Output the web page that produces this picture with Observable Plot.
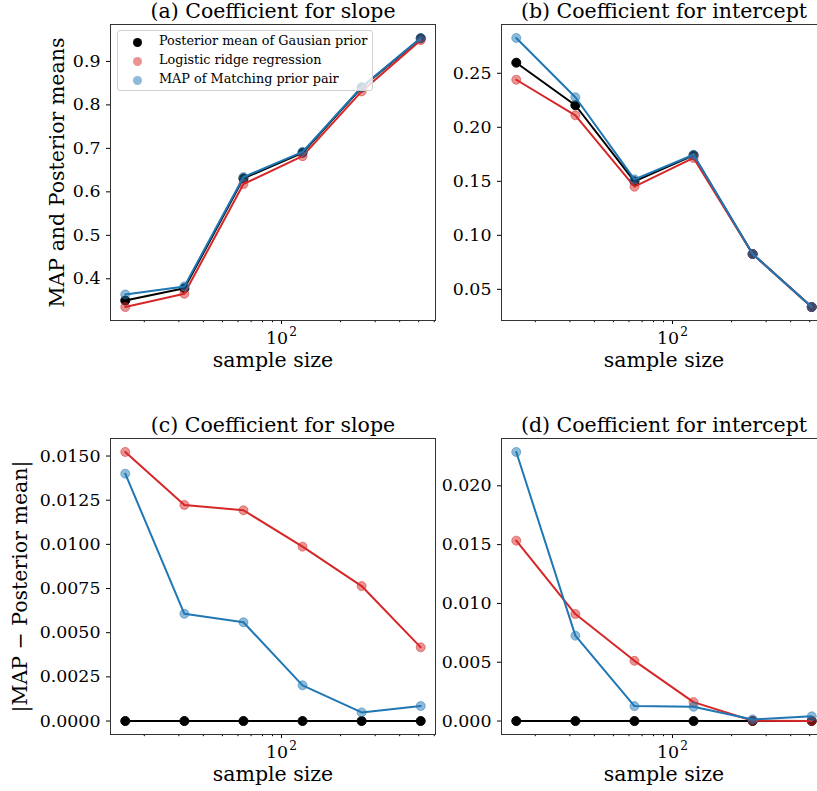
<!DOCTYPE html>
<html><head><meta charset="utf-8">
<script src="https://cdn.jsdelivr.net/npm/d3@7"></script>
<script src="https://cdn.jsdelivr.net/npm/@observablehq/plot@0.6"></script>
<style>
html,body{margin:0;padding:0;background:#fff;overflow:hidden;}
#root{position:relative;width:817px;height:791px;overflow:hidden;font-family:"DejaVu Serif",serif;background:#fff;}
.panel{position:absolute;}
.legend{position:absolute;left:117px;top:30px;width:254px;height:59px;border:1px solid #d0d0d0;border-radius:3px;background:rgba(255,255,255,0.8);z-index:5;font-family:"DejaVu Serif",serif;font-size:12.8px;color:#000;}
.legend .sw{position:absolute;width:9px;height:9px;border-radius:50%;box-sizing:border-box;}
.legend .lb{position:absolute;white-space:nowrap;line-height:1;}
</style></head><body><div id="root"></div>
<script>
// ---- data ----
const sampleSizes = [16, 32, 64, 128, 256, 512];
const seriesNames = ["Posterior mean of Gausian prior", "Logistic ridge regression", "MAP of Matching prior pair"];
const seriesColors = ["#000000", "#d62728", "#1f77b4"];
const seriesOpacity = [1, 0.5, 0.5];

const slopePost  = [0.350, 0.378, 0.631, 0.690, 0.840, 0.953];
const slopeRidge = [0.335, 0.3655, 0.618, 0.682, 0.831, 0.949];
const slopeMatch = [0.364, 0.3825, 0.634, 0.692, 0.841, 0.954];

const interPost  = [0.2598, 0.2204, 0.150, 0.174, 0.0827, 0.0336];
const interRidge = [0.244, 0.2111, 0.145, 0.1716, 0.0827, 0.0336];
const interMatch = [0.2827, 0.2278, 0.1518, 0.1746, 0.0827, 0.0336];

const slopeDiffPost  = [0, 0, 0, 0, 0, 0];
const slopeDiffRidge = [0.01523, 0.01223, 0.01193, 0.00987, 0.00764, 0.00417];
const slopeDiffMatch = [0.0140, 0.00607, 0.00559, 0.00202, 0.00049, 0.00085];

const interDiffPost  = [0, 0, 0, 0, 0, 0];
const interDiffRidge = [0.01534, 0.0091, 0.00512, 0.00161, 0.00003, 0.0];
const interDiffMatch = [0.02288, 0.00726, 0.00127, 0.00121, 0.00014, 0.0004];

const xMajorTicks = [100];
const xMajorBase = ["10"];
const xMajorExp = ["2"];
const xMinorTicks = [20, 30, 40, 50, 60, 70, 80, 90, 200, 300, 400, 500, 600];

const ticksA = [0.4, 0.5, 0.6, 0.7, 0.8, 0.9];
const ticksB = [0.05, 0.10, 0.15, 0.20, 0.25];
const ticksC = [0, 0.0025, 0.005, 0.0075, 0.01, 0.0125, 0.015];
const ticksD = [0, 0.005, 0.01, 0.015, 0.02];

const titles = ["(a) Coefficient for slope", "(b) Coefficient for intercept", "(c) Coefficient for slope", "(d) Coefficient for intercept"];
const xLabel = "sample size";
const yLabels = ["MAP and Posterior means", "|MAP − Posterior mean|"];

// ---- helpers ----
const lx = sampleSizes.map(Math.log10);
const lmin = d3.min(lx), lmax = d3.max(lx), lpad = (lmax - lmin) * 0.05;
const xDomain = [Math.pow(10, lmin - lpad), Math.pow(10, lmax + lpad)];

function padDomain(arrs) {
  const all = arrs.flat();
  const lo = d3.min(all), hi = d3.max(all), p = (hi - lo) * 0.05;
  return [lo - p, hi + p];
}

const TICK_FS = 17.4, SUP_FS = 12.2, LABEL_FS = 20.5;

function panel(cfg) {
  const {title, values, yTicks, yFormat, yLabel, yLabelDx, left, top, width, height, mL, mR, mT, mB} = cfg;
  const rows = [];
  values.forEach((vals, s) => vals.forEach((v, i) => rows.push({x: sampleSizes[i], y: v, s})));
  const marks = [
    Plot.axisY({ticks: yTicks, tickFormat: d3.format(yFormat), tickSize: 4, tickPadding: 6, fontSize: TICK_FS, label: null}),
    Plot.axisX({ticks: xMinorTicks.filter(t => t > xDomain[0] && t < xDomain[1]), tickFormat: () => "", tickSize: 2.2, label: null}),
    Plot.axisX({ticks: xMajorTicks, tickFormat: () => "", tickSize: 4, label: null}),
    Plot.text(xMajorTicks, {x: d => d, text: (d, i) => xMajorBase[i], frameAnchor: "bottom", lineAnchor: "middle", textAnchor: "end", dx: 6.6, dy: 18.4, fontSize: TICK_FS}),
    Plot.text(xMajorTicks, {x: d => d, text: (d, i) => xMajorExp[i], frameAnchor: "bottom", lineAnchor: "middle", textAnchor: "start", dx: 7.8, dy: 11.1, fontSize: SUP_FS})
  ];
  values.forEach((vals, s) => {
    const d = rows.filter(r => r.s === s);
    marks.push(Plot.line(d, {x: "x", y: "y", stroke: seriesColors[s], strokeWidth: 2}));
    marks.push(Plot.dot(d, {x: "x", y: "y", r: 4.5, fill: seriesColors[s], fillOpacity: seriesOpacity[s], stroke: seriesColors[s], strokeOpacity: seriesOpacity[s], strokeWidth: 1}));
  });
  marks.push(Plot.frame({stroke: "#333", strokeWidth: 1}));
  marks.push(Plot.text([title], {text: d => d, frameAnchor: "top", lineAnchor: "middle", dy: -13.5, fontSize: LABEL_FS}));
  marks.push(Plot.text([xLabel], {text: d => d, frameAnchor: "bottom", lineAnchor: "middle", dy: 40, fontSize: LABEL_FS}));
  if (yLabel) marks.push(Plot.text([yLabel], {text: d => d, frameAnchor: "left", textAnchor: "middle", lineAnchor: "middle", rotate: -90, dx: yLabelDx, fontSize: LABEL_FS}));
  const svg = Plot.plot({
    width, height, marginLeft: mL, marginRight: mR, marginTop: mT, marginBottom: mB,
    x: {type: "log", domain: xDomain},
    y: {domain: padDomain(values)},
    style: {fontFamily: "DejaVu Serif", fontSize: TICK_FS + "px", background: "transparent", overflow: "visible", maxWidth: "none", color: "#000"},
    marks
  });
  svg.classList.add("panel");
  svg.style.left = left + "px";
  svg.style.top = top + "px";
  document.getElementById("root").appendChild(svg);
}

panel({title: titles[0], values: [slopePost, slopeRidge, slopeMatch], yTicks: ticksA, yFormat: ".1f", yLabel: yLabels[0], yLabelDx: -53,
  left: 0, top: 0, width: 460, height: 391, mL: 110, mR: 25, mT: 24, mB: 71});
panel({title: titles[1], values: [interPost, interRidge, interMatch], yTicks: ticksB, yFormat: ".2f",
  left: 420, top: 0, width: 420, height: 391, mL: 81, mR: 14, mT: 24, mB: 71});
panel({title: titles[2], values: [slopeDiffPost, slopeDiffRidge, slopeDiffMatch], yTicks: ticksC, yFormat: ".4f", yLabel: yLabels[1], yLabelDx: -90,
  left: 0, top: 400, width: 460, height: 391, mL: 110, mR: 25, mT: 38, mB: 57});
panel({title: titles[3], values: [interDiffPost, interDiffRidge, interDiffMatch], yTicks: ticksD, yFormat: ".3f",
  left: 420, top: 400, width: 420, height: 391, mL: 81, mR: 14, mT: 38, mB: 57});

// ---- legend (panel a) ----
const lg = document.createElement("div");
lg.className = "legend";
seriesNames.forEach((name, i) => {
  const cy = 11 + i * 19;
  const sw = document.createElement("div");
  sw.className = "sw";
  sw.style.left = (19 - 4.5) + "px";
  sw.style.top = (cy - 4.5) + "px";
  sw.style.background = seriesColors[i];
  sw.style.opacity = seriesOpacity[i];
  lg.appendChild(sw);
  const lb = document.createElement("div");
  lb.className = "lb";
  lb.style.left = "41px";
  lb.style.top = (cy - 7) + "px";
  lb.textContent = name;
  lg.appendChild(lb);
});
document.getElementById("root").appendChild(lg);
</script></body></html>
